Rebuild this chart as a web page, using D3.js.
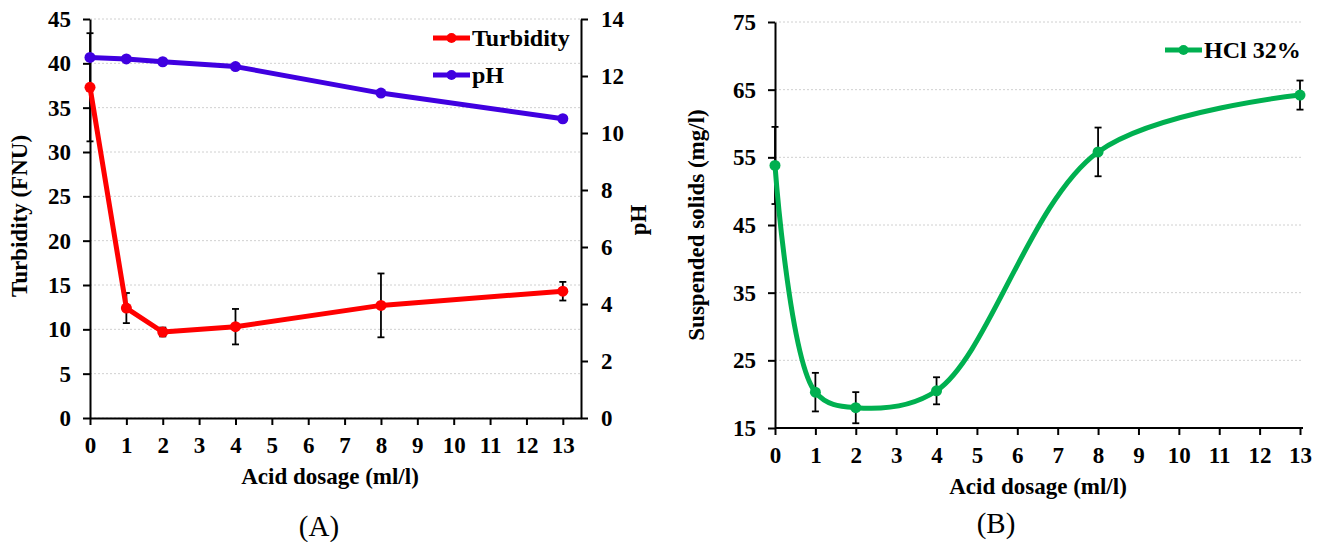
<!DOCTYPE html>
<html>
<head>
<meta charset="utf-8">
<script src="https://cdn.jsdelivr.net/npm/d3@7"></script>
<style>
  body { margin: 0; background: #fff; }
  svg text { font-family: "Liberation Serif", "Times New Roman", serif; }
  .axis text { font-size: 23px; font-weight: bold; fill: #000; }
  .axis path, .axis line { stroke: #000; stroke-width: 2; }
  .grid line { stroke: #d0d0d0; stroke-width: 1; stroke-dasharray: 2,2; }
  .title { font-size: 23px; font-weight: bold; }
  .panel { font-size: 29px; }
</style>
</head>
<body>
<svg id="chart" width="1320" height="542"></svg>
<script>
// chart A: turbidity and pH against acid dosage
var dosage = [0, 1, 2, 4, 8, 13];
var turbidity = [37.3, 12.4, 9.7, 10.3, 12.7, 14.3];
var turbidityErr = [6.1, 1.7, 0.5, 2.0, 3.6, 1.05];
var ph = [12.65, 12.6, 12.5, 12.33, 11.4, 10.5];

// chart B: suspended solids, HCl 32%
var ss = [53.8, 20.3, 18.0, 20.5, 55.8, 64.2];
var ssErr = [5.7, 2.85, 2.3, 2.0, 3.6, 2.15];

var xTicks = d3.range(0, 14);
var turbTicks = d3.range(0, 50, 5);
var phTicks = d3.range(0, 16, 2);
var ssTicks = [15, 25, 35, 45, 55, 65, 75];

var svg = d3.select("#chart");
var red = "#ff0000", blue = "#4000e0", green = "#00b050";

function errorBars(g, x, y, vals, errs) {
	var cap = 3.5;
	var e = g.append("g").attr("stroke", "#000").attr("stroke-width", 1.8);
	dosage.forEach(function (d, i) {
		var x0 = x(d), y1 = y(vals[i] + errs[i]), y2 = y(vals[i] - errs[i]);
		e.append("line").attr("x1", x0).attr("x2", x0).attr("y1", y1).attr("y2", y2);
		e.append("line").attr("x1", x0 - cap).attr("x2", x0 + cap).attr("y1", y1).attr("y2", y1);
		e.append("line").attr("x1", x0 - cap).attr("x2", x0 + cap).attr("y1", y2).attr("y2", y2);
	});
}

function series(g, x, y, vals, color, curve) {
	var line = d3.line()
		.x(function (d, i) { return x(dosage[i]); })
		.y(function (d) { return y(d); });
	if (curve) line.curve(curve);
	g.append("path")
		.datum(vals)
		.attr("fill", "none")
		.attr("stroke", color)
		.attr("stroke-width", 5)
		.attr("stroke-linejoin", "round")
		.attr("d", line);
	g.selectAll(null)
		.data(vals)
		.enter().append("circle")
		.attr("cx", function (d, i) { return x(dosage[i]); })
		.attr("cy", function (d) { return y(d); })
		.attr("r", 5.5)
		.attr("fill", color);
}

function legendItem(g, x0, y0, color, label) {
	g.append("line").attr("x1", x0).attr("x2", x0 + 37).attr("y1", y0).attr("y2", y0)
		.attr("stroke", color).attr("stroke-width", 5);
	g.append("circle").attr("cx", x0 + 18.5).attr("cy", y0).attr("r", 5).attr("fill", color);
	g.append("text").attr("x", x0 + 39).attr("y", y0 + 8)
		.style("font-size", "24px").style("font-weight", "bold").text(label);
}

// ---------- chart A ----------
(function () {
	var g = svg.append("g");
	var x = d3.scaleLinear().domain([0, 13.5]).range([90, 581]);
	var yL = d3.scaleLinear().domain([0, 45]).range([418, 19]);
	var yR = d3.scaleLinear().domain([0, 14]).range([418, 19]);

	g.append("g").attr("class", "grid")
		.selectAll("line").data(turbTicks).enter().append("line")
		.attr("x1", 90).attr("x2", 581)
		.attr("y1", function (d) { return yL(d); })
		.attr("y2", function (d) { return yL(d); });

	g.append("g").attr("class", "axis")
		.attr("transform", "translate(0,418)")
		.call(d3.axisBottom(x).tickValues(xTicks).tickSize(7).tickSizeOuter(0).tickPadding(12));
	g.append("g").attr("class", "axis")
		.attr("transform", "translate(90,0)")
		.call(d3.axisLeft(yL).tickValues(turbTicks).tickSize(7).tickSizeOuter(0).tickPadding(12));
	g.append("g").attr("class", "axis")
		.attr("transform", "translate(581,0)")
		.call(d3.axisRight(yR).tickValues(phTicks).tickSize(7).tickSizeOuter(0).tickPadding(13));

	errorBars(g, x, yL, turbidity, turbidityErr);
	series(g, x, yR, ph, blue);
	series(g, x, yL, turbidity, red);

	legendItem(g, 433, 38, red, "Turbidity");
	legendItem(g, 433, 75, blue, "pH");

	g.append("text").attr("class", "title")
		.attr("transform", "translate(27,216) rotate(-90)")
		.attr("text-anchor", "middle")
		.text("Turbidity (FNU)");
	g.append("text").attr("class", "title")
		.attr("transform", "translate(646,220) rotate(-90)")
		.attr("text-anchor", "middle")
		.text("pH");
	g.append("text").attr("class", "title")
		.attr("x", 330).attr("y", 484)
		.attr("text-anchor", "middle")
		.text("Acid dosage (ml/l)");
	g.append("text").attr("class", "panel")
		.attr("x", 319).attr("y", 536)
		.attr("text-anchor", "middle")
		.text("(A)");
})();

// ---------- chart B ----------
(function () {
	var g = svg.append("g");
	var x = d3.scaleLinear().domain([0, 13]).range([775, 1300]);
	var y = d3.scaleLinear().domain([15, 75]).range([428, 22]);

	g.append("g").attr("class", "grid")
		.selectAll("line").data(ssTicks).enter().append("line")
		.attr("x1", 775).attr("x2", 1303)
		.attr("y1", function (d) { return y(d); })
		.attr("y2", function (d) { return y(d); });

	var xa = g.append("g").attr("class", "axis")
		.attr("transform", "translate(0,428)")
		.call(d3.axisBottom(x).tickValues(xTicks).tickSize(7).tickSizeOuter(0).tickPadding(12));
	xa.select(".domain").attr("d", "M775,0H1303");
	g.append("g").attr("class", "axis")
		.attr("transform", "translate(775,0)")
		.call(d3.axisLeft(y).tickValues(ssTicks).tickSize(7).tickSizeOuter(0).tickPadding(12));

	errorBars(g, x, y, ss, ssErr);
	series(g, x, y, ss, green, d3.curveCatmullRom.alpha(0.5));

	legendItem(g, 1165, 50, green, "HCl 32%");

	g.append("text").attr("class", "title")
		.attr("transform", "translate(704,225) rotate(-90)")
		.attr("text-anchor", "middle")
		.text("Suspended solids (mg/l)");
	g.append("text").attr("class", "title")
		.attr("x", 1038).attr("y", 494)
		.attr("text-anchor", "middle")
		.text("Acid dosage (ml/l)");
	g.append("text").attr("class", "panel")
		.attr("x", 996).attr("y", 533)
		.attr("text-anchor", "middle")
		.text("(B)");
})();
</script>
</body>
</html>
